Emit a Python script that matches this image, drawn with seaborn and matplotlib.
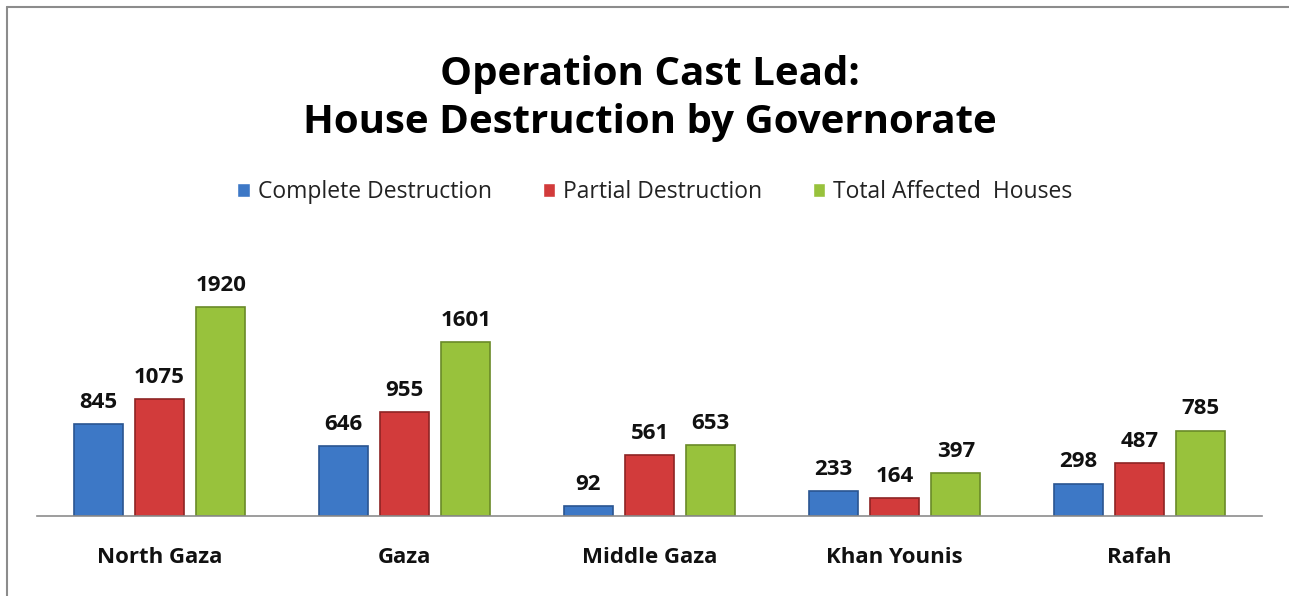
import matplotlib
matplotlib.use("Agg")
import matplotlib.pyplot as plt
from matplotlib.lines import Line2D
import seaborn as sns
import pandas as pd

categories = ["North Gaza", "Gaza", "Middle Gaza", "Khan Younis", "Rafah"]
series = ["Complete Destruction", "Partial Destruction", "Total Affected  Houses"]
complete = [845, 646, 92, 233, 298]
partial = [1075, 955, 561, 164, 487]
total = [1920, 1601, 653, 397, 785]
colors = ["#3D78C6", "#D23B3B", "#98C23C"]
edges = ["#2A5591", "#8E2424", "#6A8A28"]

rows = []
for name, vals in zip(series, [complete, partial, total]):
    for c, v in zip(categories, vals):
        rows.append({"Governorate": c, "Series": name, "Houses": v})
df = pd.DataFrame(rows)

sns.set_style("white")
plt.rcParams["font.family"] = ["Open Sans", "DejaVu Sans"]

fig = plt.figure(figsize=(12.89, 5.96), dpi=100)
ax = fig.add_axes([37/1289, 80/596, 1225/1289, 266/596])

sns.barplot(data=df, x="Governorate", y="Houses", hue="Series", order=categories,
            hue_order=series, palette=colors, width=0.75, gap=0.2, ax=ax,
            legend=True, saturation=1)

for cont, ec in zip(ax.containers, edges):
    for p in cont:
        p.set_edgecolor(ec)
        p.set_linewidth(1.2)
    ax.bar_label(cont, fmt="%d", padding=8, fontsize=16, fontweight="bold", color="#111111")

ax.set_xlim(-0.5, 4.5)
ax.set_ylim(0, 2443)
ax.set_yticks([])
ax.set_xlabel("")
ax.set_ylabel("")
for s in ["top", "right", "left"]:
    ax.spines[s].set_visible(False)
ax.spines["bottom"].set_color("#8C8C8C")
ax.spines["bottom"].set_linewidth(1.2)
ax.tick_params(axis="x", length=0, pad=22, labelsize=16, labelcolor="#111111")
for t in ax.get_xticklabels():
    t.set_fontweight("bold")

handles, labels = ax.get_legend_handles_labels()
ax.legend_.remove()
fig.legend(handles, labels, loc="center", bbox_to_anchor=(655/1289, 1 - 192/596), ncol=3,
           frameon=False, fontsize=16.5, handlelength=0.55, handleheight=0.55,
           handletextpad=0.35, columnspacing=2.2, labelcolor="#222222")

fig.text(650/1289, 1 - 75/596, "Operation Cast Lead:", ha="center", va="center",
         fontsize=29, fontweight="bold", color="black")
fig.text(650/1289, 1 - 122/596, "House Destruction by Governorate", ha="center", va="center",
         fontsize=29, fontweight="bold", color="black")

fig.add_artist(Line2D([7/1289, 7/1289], [0, 1 - 7/596], color="#8C8C8C", lw=1.5,
                      transform=fig.transFigure))
fig.add_artist(Line2D([7/1289, 1], [1 - 7/596, 1 - 7/596], color="#8C8C8C", lw=1.5,
                      transform=fig.transFigure))

fig.savefig("out.png", dpi=100, facecolor="white")
